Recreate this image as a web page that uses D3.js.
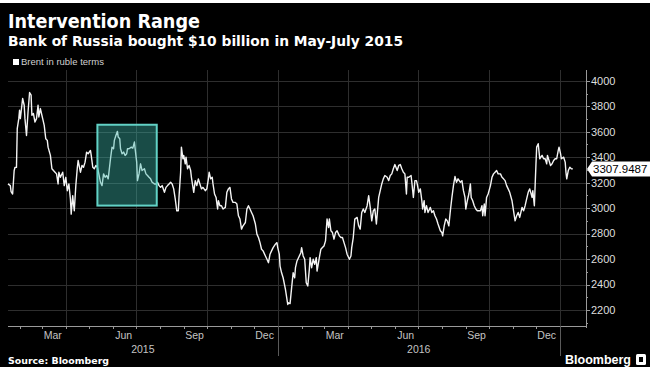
<!DOCTYPE html>
<html><head><meta charset="utf-8">
<script src="https://cdn.jsdelivr.net/npm/d3@7"></script>
<style>body{margin:0;background:#fff;} svg{display:block}</style>
</head><body>
<svg id="c" width="662" height="380"></svg>
<script>
const title = "Intervention Range";
const subtitle = "Bank of Russia bought $10 billion in May-July 2015";
const legendLabel = "Brent in ruble terms";
const sourceLabel = "Source: Bloomberg";
const brandLabel = "Bloomberg";
const yTicks = [2200, 2400, 2600, 2800, 3000, 3200, 3400, 3600, 3800, 4000];
const monthLabels = ["Mar", "Jun", "Sep", "Dec"];
const yearLabels = ["2015", "2016"];
const intervention = { start: "2015-05-12", end: "2015-07-28", low: 3020, high: 3655 };
const lastValueLabel = "3307.9487";

const brent = [
["2015-01-16",3190],["2015-01-19",3177],["2015-01-20",3129],["2015-01-22",3111],["2015-01-24",3295],["2015-01-25",3319],["2015-01-27",3320],["2015-01-28",3624],["2015-01-30",3703],["2015-01-31",3769],
["2015-02-01",3703],["2015-02-04",3861],["2015-02-06",3808],["2015-02-07",3703],["2015-02-09",3571],["2015-02-11",3755],["2015-02-13",3908],["2015-02-15",3887],["2015-02-16",3729],["2015-02-18",3743],["2015-02-20",3676],["2015-02-22",3703],["2015-02-24",3808],["2015-02-25",3716],["2015-02-27",3782],["2015-02-28",3755],
["2015-03-02",3703],["2015-03-04",3650],["2015-03-06",3545],["2015-03-08",3532],["2015-03-09",3479],["2015-03-12",3414],["2015-03-14",3309],["2015-03-16",3295],["2015-03-18",3282],["2015-03-20",3269],["2015-03-22",3190],["2015-03-23",3282],["2015-03-25",3242],["2015-03-28",3282],["2015-03-30",3177],
["2015-04-01",3242],["2015-04-03",3137],["2015-04-05",3190],["2015-04-07",3072],["2015-04-08",2953],["2015-04-10",3098],["2015-04-11",3032],["2015-04-12",2979],["2015-04-14",3177],["2015-04-16",3321],["2015-04-17",3374],["2015-04-20",3282],["2015-04-22",3335],["2015-04-24",3321],["2015-04-26",3361],["2015-04-28",3440],["2015-04-30",3427],
["2015-05-03",3453],["2015-05-04",3414],["2015-05-06",3321],["2015-05-08",3309],["2015-05-10",3335],["2015-05-12",3321],["2015-05-13",3295],["2015-05-16",3203],["2015-05-18",3177],["2015-05-20",3269],["2015-05-22",3242],["2015-05-24",3256],["2015-05-26",3230],["2015-05-29",3388],["2015-05-31",3479],
["2015-06-02",3466],["2015-06-03",3532],["2015-06-05",3571],["2015-06-07",3603],["2015-06-08",3558],["2015-06-10",3545],["2015-06-11",3466],["2015-06-13",3427],["2015-06-15",3440],["2015-06-17",3414],["2015-06-19",3427],["2015-06-20",3466],["2015-06-22",3466],["2015-06-25",3479],["2015-06-27",3471],["2015-06-29",3519],["2015-06-30",3466],
["2015-07-02",3361],["2015-07-03",3216],["2015-07-05",3269],["2015-07-07",3348],["2015-07-09",3295],["2015-07-12",3309],["2015-07-14",3269],["2015-07-16",3256],["2015-07-18",3242],["2015-07-20",3230],["2015-07-22",3203],["2015-07-25",3190],["2015-07-27",3190],["2015-07-29",3203],["2015-07-31",3177],
["2015-08-02",3163],["2015-08-04",3177],["2015-08-07",3124],["2015-08-09",3163],["2015-08-11",3177],["2015-08-13",3190],["2015-08-15",3203],["2015-08-17",3190],["2015-08-19",3151],["2015-08-21",3072],["2015-08-23",2979],["2015-08-25",2979],["2015-08-26",3098],["2015-08-28",3282],["2015-08-29",3479],["2015-08-31",3388],
["2015-09-01",3414],["2015-09-03",3348],["2015-09-04",3400],["2015-09-06",3309],["2015-09-08",3335],["2015-09-10",3295],["2015-09-11",3242],["2015-09-14",3124],["2015-09-16",3216],["2015-09-18",3177],["2015-09-20",3230],["2015-09-22",3190],["2015-09-24",3151],["2015-09-26",3163],["2015-09-29",3137],
["2015-10-01",3151],["2015-10-03",3230],["2015-10-04",3282],["2015-10-06",3230],["2015-10-08",3242],["2015-10-09",3190],["2015-10-11",3111],["2015-10-13",3084],["2015-10-15",2993],["2015-10-16",3058],["2015-10-18",3019],["2015-10-20",3019],["2015-10-22",2993],["2015-10-25",3006],["2015-10-27",3124],["2015-10-29",3151],["2015-10-31",3163],
["2015-11-02",3072],["2015-11-04",3045],["2015-11-07",3045],["2015-11-09",3032],["2015-11-11",2940],["2015-11-13",2914],["2015-11-15",2835],["2015-11-17",2861],["2015-11-20",2887],["2015-11-22",2993],["2015-11-24",3019],["2015-11-26",2993],["2015-11-28",2966],["2015-11-30",2940],
["2015-12-03",2875],["2015-12-05",2796],["2015-12-07",2769],["2015-12-09",2729],["2015-12-11",2677],["2015-12-13",2664],["2015-12-16",2624],["2015-12-18",2598],["2015-12-20",2571],["2015-12-22",2638],["2015-12-24",2664],["2015-12-26",2690],["2015-12-29",2717],["2015-12-31",2729],
["2016-01-01",2690],["2016-01-03",2638],["2016-01-04",2545],["2016-01-06",2492],["2016-01-08",2453],["2016-01-11",2361],["2016-01-12",2322],["2016-01-14",2243],["2016-01-15",2256],["2016-01-17",2250],["2016-01-19",2374],["2016-01-21",2492],["2016-01-23",2453],["2016-01-24",2532],["2016-01-26",2585],["2016-01-29",2624],["2016-01-31",2650],
["2016-02-01",2690],["2016-02-03",2624],["2016-02-05",2598],["2016-02-07",2414],["2016-02-09",2388],["2016-02-11",2519],["2016-02-12",2611],["2016-02-14",2532],["2016-02-16",2598],["2016-02-18",2559],["2016-02-20",2611],["2016-02-21",2506],["2016-02-24",2611],["2016-02-26",2677],["2016-02-28",2690],
["2016-03-01",2703],["2016-03-03",2743],["2016-03-05",2914],["2016-03-07",2848],["2016-03-08",2914],["2016-03-10",2822],["2016-03-12",2808],["2016-03-14",2756],["2016-03-16",2808],["2016-03-18",2822],["2016-03-21",2782],["2016-03-23",2769],["2016-03-25",2769],["2016-03-27",2729],["2016-03-29",2690],["2016-03-31",2638],
["2016-04-03",2598],["2016-04-05",2624],["2016-04-06",2690],["2016-04-08",2769],["2016-04-10",2914],["2016-04-13",2927],["2016-04-15",2861],["2016-04-17",2835],["2016-04-19",2966],["2016-04-21",2993],["2016-04-23",2966],["2016-04-26",3019],["2016-04-28",3098],["2016-04-30",3006],
["2016-05-02",2900],["2016-05-04",2979],["2016-05-06",2993],["2016-05-08",2875],["2016-05-11",3084],["2016-05-13",3137],["2016-05-15",3190],["2016-05-17",3230],["2016-05-19",3256],["2016-05-22",3242],["2016-05-24",3216],["2016-05-26",3256],["2016-05-28",3269],["2016-05-30",3309],
["2016-06-01",3342],["2016-06-04",3295],["2016-06-06",3335],["2016-06-08",3342],["2016-06-10",3309],["2016-06-12",3282],["2016-06-14",3269],["2016-06-16",3111],["2016-06-17",3242],["2016-06-19",3242],["2016-06-22",3256],["2016-06-23",3203],["2016-06-25",3084],["2016-06-27",3216],["2016-06-29",3216],["2016-06-30",3190],
["2016-07-02",3124],["2016-07-04",3151],["2016-07-06",3058],["2016-07-07",2993],["2016-07-09",3058],["2016-07-10",2966],["2016-07-12",3019],["2016-07-14",2966],["2016-07-17",3006],["2016-07-19",2966],["2016-07-21",2979],["2016-07-23",2940],["2016-07-25",2914],["2016-07-27",2875],["2016-07-30",2822],
["2016-08-01",2808],["2016-08-02",2782],["2016-08-04",2861],["2016-08-06",2914],["2016-08-08",2900],["2016-08-10",2861],["2016-08-12",2979],["2016-08-14",3084],["2016-08-16",3177],["2016-08-18",3248],["2016-08-20",3203],["2016-08-22",3230],["2016-08-25",3203],["2016-08-27",3216],["2016-08-29",3137],["2016-08-31",3084],
["2016-09-01",2993],["2016-09-03",3058],["2016-09-05",3111],["2016-09-07",3190],["2016-09-08",3084],["2016-09-10",3058],["2016-09-12",3019],["2016-09-14",2993],["2016-09-16",2979],["2016-09-17",2979],["2016-09-20",2979],["2016-09-22",3019],["2016-09-23",2940],["2016-09-25",3032],["2016-09-26",2940],["2016-09-28",3084],["2016-09-30",3111],
["2016-10-03",3177],["2016-10-05",3242],["2016-10-07",3269],["2016-10-09",3282],["2016-10-11",3295],["2016-10-13",3269],["2016-10-16",3269],["2016-10-18",3242],["2016-10-20",3230],["2016-10-22",3216],["2016-10-24",3177],["2016-10-26",3151],["2016-10-28",3124],["2016-10-31",3058],
["2016-11-02",2979],["2016-11-04",2900],["2016-11-06",2940],["2016-11-08",2966],["2016-11-10",2927],["2016-11-13",3006],["2016-11-15",2979],["2016-11-17",3019],["2016-11-19",3072],["2016-11-21",3124],["2016-11-23",3151],["2016-11-26",3084],["2016-11-27",3137],["2016-11-29",3019],["2016-11-30",3177],
["2016-12-01",3335],["2016-12-02",3479],["2016-12-04",3506],["2016-12-06",3388],["2016-12-09",3414],["2016-12-11",3388],["2016-12-13",3388],["2016-12-15",3348],["2016-12-16",3414],["2016-12-18",3374],["2016-12-20",3335],["2016-12-22",3348],["2016-12-24",3374],["2016-12-26",3388],["2016-12-28",3388],["2016-12-30",3453],["2016-12-31",3479],
["2017-01-02",3427],["2017-01-03",3388],["2017-01-06",3400],["2017-01-08",3361],["2017-01-09",3282],["2017-01-10",3230],["2017-01-12",3295],["2017-01-14",3321],["2017-01-16",3309],["2017-01-18",3307.9487]
];

const parse = d3.utcParse("%Y-%m-%d");
const svg = d3.select("#c");
const L = 8, R = 586, T = 70, B = 326;

svg.append("rect").attr("x", 0).attr("y", 3).attr("width", 650).attr("height", 364).attr("fill", "#000");

const x = d3.scaleUtc().domain([parse("2015-01-16"), parse("2017-02-04")]).range([L, R]);
const y = d3.scaleLinear().domain([2074, 4085]).range([B, T]);

const grid = svg.append("g").attr("stroke", "#2e2e2e").attr("stroke-width", 1);
grid.selectAll("line.h").data(yTicks).join("line")
  .attr("x1", L).attr("x2", R)
  .attr("y1", d => Math.round(y(d)) + 0.5).attr("y2", d => Math.round(y(d)) + 0.5);
const quarters = d3.utcMonth.range(parse("2015-02-01"), parse("2017-02-01")).filter(d => d.getUTCMonth() % 3 === 0);
grid.selectAll("line.v").data(quarters).join("line")
  .attr("x1", d => Math.round(x(d)) + 0.5).attr("x2", d => Math.round(x(d)) + 0.5)
  .attr("y1", T).attr("y2", B);

// series
const line = d3.line().x(d => x(parse(d[0]))).y(d => y(d[1]));
svg.append("path").datum(brent).attr("d", line)
  .attr("fill", "none").attr("stroke", "#f4f4f4").attr("stroke-width", 1.4).attr("stroke-linejoin", "round");

// intervention box
const bx0 = x(parse(intervention.start)), bx1 = x(parse(intervention.end));
svg.append("rect").attr("x", bx0).attr("y", y(intervention.high))
  .attr("width", bx1 - bx0).attr("height", y(intervention.low) - y(intervention.high))
  .attr("fill", "#3cb5aa").attr("fill-opacity", 0.42)
  .attr("stroke", "#62d2c6").attr("stroke-width", 2);

// x axis
const ax = svg.append("g");
ax.append("line").attr("x1", L).attr("x2", R).attr("y1", B + 0.5).attr("y2", B + 0.5).attr("stroke", "#9a9a9a");
const months = d3.utcMonth.range(parse("2015-02-01"), parse("2017-02-01"));
ax.selectAll("line.mt").data(months).join("line")
  .attr("x1", d => Math.round(x(d)) + 0.5).attr("x2", d => Math.round(x(d)) + 0.5)
  .attr("y1", B).attr("y2", B + 3).attr("stroke", "#9a9a9a");
const labelMonths = d3.utcMonth.range(parse("2015-01-01"), parse("2017-01-01"))
  .filter(d => monthLabels.includes(d3.utcFormat("%b")(d)));
ax.selectAll("text.ml").data(labelMonths).join("text")
  .attr("x", d => x(d3.utcDay.offset(d, 14))).attr("y", 339)
  .attr("text-anchor", "middle").attr("fill", "#c4c4c4")
  .attr("font-family", "Liberation Sans, Arial, sans-serif").attr("font-size", 10.5)
  .text(d => d3.utcFormat("%b")(d));
const yearStarts = [parse("2016-01-01"), parse("2017-01-01")];
ax.selectAll("line.ys").data(yearStarts).join("line")
  .attr("x1", d => Math.round(x(d)) + 0.5).attr("x2", d => Math.round(x(d)) + 0.5)
  .attr("y1", B).attr("y2", 356).attr("stroke", "#5a5a5a");
const yearBounds = [[L, x(yearStarts[0])], [x(yearStarts[0]), x(yearStarts[1])]];
ax.selectAll("text.yl").data(yearLabels).join("text")
  .attr("x", (d, i) => (yearBounds[i][0] + yearBounds[i][1]) / 2).attr("y", 353)
  .attr("text-anchor", "middle").attr("fill", "#c4c4c4")
  .attr("font-family", "Liberation Sans, Arial, sans-serif").attr("font-size", 10.5)
  .text(d => d);

// y axis
const ay = svg.append("g");
ay.append("line").attr("x1", R + 0.5).attr("x2", R + 0.5).attr("y1", T).attr("y2", B + 2).attr("stroke", "#9a9a9a");
const minor = d3.range(2100, 4100, 100);
ay.selectAll("line.mn").data(minor).join("line")
  .attr("x1", R).attr("x2", d => R + (d % 200 === 0 ? 4 : 2))
  .attr("y1", d => Math.round(y(d)) + 0.5).attr("y2", d => Math.round(y(d)) + 0.5)
  .attr("stroke", "#9a9a9a");
ay.selectAll("text").data(yTicks).join("text")
  .attr("x", R + 5).attr("y", d => y(d)).attr("dy", "0.35em")
  .attr("fill", "#dedede").attr("font-family", "Liberation Sans, Arial, sans-serif").attr("font-size", 11)
  .text(d => d);

// last value tag
const last = brent[brent.length - 1];
const ly = y(last[1]);
svg.append("path")
  .attr("d", `M${R + 1},${ly} L${R + 6},${ly - 7.5} L650,${ly - 7.5} L650,${ly + 7.5} L${R + 6},${ly + 7.5} Z`)
  .attr("fill", "#fff");
svg.append("text").attr("x", R + 7).attr("y", ly).attr("dy", "0.36em")
  .attr("fill", "#000").attr("font-family", "Liberation Sans, Arial, sans-serif").attr("font-size", 11.5)
  .text(lastValueLabel);

// titles
svg.append("text").attr("x", 8).attr("y", 28).attr("fill", "#fff")
  .attr("font-family", "DejaVu Sans, sans-serif").attr("font-weight", "bold").attr("font-size", 19)
  .attr("textLength", 192).attr("lengthAdjust", "spacingAndGlyphs").text(title);
svg.append("text").attr("x", 8).attr("y", 46).attr("fill", "#fff")
  .attr("font-family", "DejaVu Sans, sans-serif").attr("font-weight", "bold").attr("font-size", 13.5)
  .attr("textLength", 395).attr("lengthAdjust", "spacingAndGlyphs").text(subtitle);

// legend
svg.append("rect").attr("x", 13).attr("y", 59).attr("width", 6).attr("height", 6).attr("fill", "#fff");
svg.append("text").attr("x", 21).attr("y", 65).attr("fill", "#d0d0d0")
  .attr("font-family", "Liberation Sans, Arial, sans-serif").attr("font-size", 9.5).text(legendLabel);

// footer
svg.append("text").attr("x", 8).attr("y", 364).attr("fill", "#fff")
  .attr("font-family", "DejaVu Sans, sans-serif").attr("font-weight", "bold").attr("font-size", 9.5)
  .attr("textLength", 101).attr("lengthAdjust", "spacingAndGlyphs").text(sourceLabel);
svg.append("text").attr("x", 631).attr("y", 364).attr("text-anchor", "end").attr("fill", "#fff")
  .attr("font-family", "Liberation Sans, Arial, sans-serif").attr("font-weight", "bold").attr("font-size", 12.5)
  .text(brandLabel);
svg.append("rect").attr("x", 636).attr("y", 354).attr("width", 10).attr("height", 11).attr("rx", 1.5).attr("fill", "#fff");
svg.append("rect").attr("x", 639).attr("y", 357).attr("width", 4).attr("height", 5).attr("fill", "#000");
</script>
</body></html>
